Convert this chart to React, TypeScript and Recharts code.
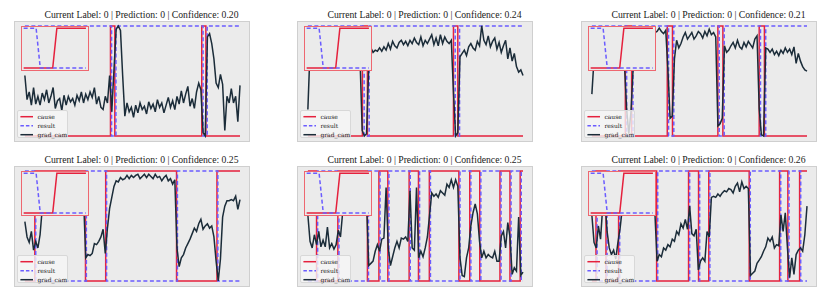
import React from 'react'
import { LineChart, Line, XAxis, YAxis } from 'recharts'

const titles = [
  'Current Label: 0 | Prediction: 0 | Confidence: 0.20',
  'Current Label: 0 | Prediction: 0 | Confidence: 0.24',
  'Current Label: 0 | Prediction: 0 | Confidence: 0.21',
  'Current Label: 0 | Prediction: 0 | Confidence: 0.25',
  'Current Label: 0 | Prediction: 0 | Confidence: 0.25',
  'Current Label: 0 | Prediction: 0 | Confidence: 0.26'
]

const legendNames = ['cause', 'result', 'grad_cam']

// grad_cam values, 100 samples per panel (0..1)
const gradCam1 = [
  0.55, 0.33, 0.40, 0.28, 0.44, 0.29, 0.36, 0.28, 0.39, 0.33,
  0.42, 0.30, 0.36, 0.44, 0.25, 0.32, 0.34, 0.23, 0.37, 0.28,
  0.36, 0.31, 0.34, 0.28, 0.37, 0.32, 0.40, 0.30, 0.38, 0.33,
  0.40, 0.35, 0.44, 0.29, 0.36, 0.26, 0.24, 0.36, 0.30, 0.55,
  0.22, 0.60, 0.97, 1.0, 0.96, 0.55, 0.18, 0.30, 0.22, 0.26,
  0.17, 0.28, 0.21, 0.30, 0.24, 0.27, 0.20, 0.31, 0.25, 0.29,
  0.22, 0.33, 0.26, 0.30, 0.21, 0.28, 0.35, 0.26, 0.32, 0.24,
  0.36, 0.29, 0.41, 0.30, 0.38, 0.45, 0.27, 0.34, 0.25, 0.40,
  0.48, 0.42, 0.03, 0.0, 0.90, 0.93, 0.84, 0.70, 0.48, 0.44,
  0.56, 0.47, 0.05, 0.36, 0.30, 0.43, 0.30, 0.36, 0.13, 0.46
]
const gradCam2 = [
  0.24, 0.78, 0.80, 0.76, 0.82, 0.79, 0.84, 0.77, 0.81, 0.85,
  0.79, 0.83, 0.78, 0.86, 0.80, 0.84, 0.79, 0.82, 0.87, 0.81,
  0.85, 0.78, 0.83, 0.80, 0.70, 0.05, 0.0, 0.02, 0.62, 0.80,
  0.76, 0.78, 0.77, 0.80, 0.77, 0.81, 0.78, 0.84, 0.79, 0.86,
  0.82, 0.80, 0.85, 0.87, 0.83, 0.86, 0.82, 0.87, 0.84, 0.89,
  0.85, 0.83, 0.90, 0.82, 0.87, 0.84, 0.88, 0.92, 0.83, 0.89,
  0.82, 0.92, 0.84, 0.90, 0.86, 0.84, 0.87, 0.40, 0.0, 0.03,
  0.72, 0.75, 0.78, 0.73, 0.81, 0.84, 0.80, 0.78, 0.86, 0.82,
  1.0, 0.87, 0.83, 0.91, 0.81, 0.86, 0.89, 0.79, 0.85, 0.76,
  0.82, 0.87, 0.70, 0.80, 0.68, 0.75, 0.63, 0.58, 0.60, 0.55
]
const gradCam3 = [
  0.38, 0.70, 0.75, 0.72, 0.80, 0.78, 0.74, 0.82, 0.77, 0.80,
  0.75, 0.79, 0.83, 0.76, 0.72, 0.65, 0.24, 0.02, 0.22, 0.62,
  0.80, 0.85, 0.82, 0.88, 0.84, 0.90, 0.86, 0.92, 0.88, 0.94,
  0.95, 0.98, 0.95, 0.93, 0.96, 0.60, 0.16, 0.18, 0.70, 0.87,
  0.80, 0.84, 0.90, 0.94, 0.88, 0.91, 0.94, 0.88, 0.91, 0.95,
  0.93, 0.89, 0.95, 0.91, 0.97, 0.92, 0.94, 0.90, 0.09, 0.11,
  0.16, 0.82, 0.76, 0.78, 0.82, 0.85, 0.80, 0.87, 0.81, 0.79,
  0.85, 0.81, 0.86, 0.83, 0.80, 0.88, 0.91, 0.25, 0.01, 0.0,
  0.80, 0.79, 0.76, 0.79, 0.74, 0.77, 0.73, 0.78, 0.75, 0.80,
  0.76, 0.79, 0.74, 0.81, 0.66, 0.75, 0.68, 0.63, 0.60, 0.59
]
const gradCam4 = [
  0.54, 0.40, 0.35, 0.45, 0.28, 0.36, 0.30, 0.42, 0.66, 0.75,
  0.78, 0.82, 0.80, 0.85, 0.83, 0.88, 0.86, 0.84, 0.89, 0.87,
  0.90, 0.86, 0.88, 0.85, 0.87, 0.83, 0.80, 0.76, 0.21, 0.24,
  0.23, 0.25, 0.34, 0.33, 0.36, 0.40, 0.47, 0.25, 0.48, 0.66,
  0.76, 0.86, 0.91, 0.90, 0.94, 0.92, 0.93, 0.96, 0.93, 0.96,
  0.94, 0.96, 0.97, 0.93, 0.95, 0.97, 0.94, 0.97, 0.95, 0.93,
  0.97, 0.94, 0.95, 0.91, 0.94, 0.96, 0.91, 0.93, 0.88, 0.92,
  0.30, 0.13, 0.21, 0.24, 0.30, 0.34, 0.38, 0.43, 0.48, 0.45,
  0.52, 0.56, 0.47, 0.50, 0.52, 0.48, 0.50, 0.40, 0.18, 0.0,
  0.20, 0.58, 0.68, 0.73, 0.73, 0.74, 0.73, 0.77, 0.65, 0.74
]
const gradCam5 = [
  0.60, 0.36, 0.30, 0.42, 0.33, 0.45, 0.31, 0.37, 0.31, 0.49,
  0.30, 0.34, 0.29, 0.33, 0.46, 0.40, 0.62, 0.70, 0.78, 0.74,
  0.82, 0.77, 0.85, 0.80, 0.76, 0.83, 0.79, 0.72, 0.14, 0.16,
  0.18, 0.27, 0.33, 0.27, 0.38, 0.39, 0.85, 0.30, 0.14, 0.22,
  0.30, 0.36, 0.30, 0.39, 0.38, 0.40, 0.36, 0.82, 0.30, 0.28,
  0.85, 0.21, 0.27, 0.22, 0.30, 0.40, 0.60, 0.80, 0.77, 0.79,
  0.76, 0.82, 0.80, 0.78, 0.88, 0.85, 0.92, 0.85, 0.92, 0.86,
  0.21, 0.05, 0.04, 0.21, 0.30, 0.50, 0.62, 0.70, 0.61, 0.36,
  0.21, 0.27, 0.21, 0.24, 0.22, 0.21, 0.27, 0.18, 0.18, 0.41,
  0.45, 0.30, 0.53, 0.40, 0.06, 0.12, 0.09, 0.58, 0.05, 0.08
]
const gradCam6 = [
  0.60, 0.35, 0.30, 0.50, 0.38, 0.68, 0.75, 0.45, 0.30, 0.24,
  0.28, 0.20, 0.35, 0.48, 0.66, 0.70, 0.75, 0.80, 0.78, 0.83,
  0.86, 0.82, 0.88, 0.85, 0.90, 0.87, 0.84, 0.80, 0.76, 0.62,
  0.18, 0.24, 0.22, 0.30, 0.28, 0.33, 0.31, 0.38, 0.36, 0.45,
  0.42, 0.52, 0.48, 0.56, 0.47, 0.68, 0.43, 0.41, 0.47, 0.10,
  0.18, 0.21, 0.18, 0.45, 0.40, 0.76, 0.77, 0.76, 0.79, 0.77,
  0.80, 0.82, 0.81, 0.84, 0.83, 0.80, 0.86, 0.89, 0.81, 0.90,
  0.84, 0.86, 0.84, 0.05, 0.07, 0.09, 0.16, 0.19, 0.22, 0.27,
  0.31, 0.39, 0.36, 0.40, 0.30, 0.33, 0.32, 0.60, 0.45, 0.62,
  0.30, 0.03, 0.21, 0.06, 0.24, 0.28, 0.30, 0.27, 0.42, 0.68
]

// sample ranges where cause is 1
const causeOn1 = [[39.4, 41.4], [81.4, 83.3]]
const causeOn2 = [[25.1, 27.4], [67, 69]]
const causeOn3 = [[15.4, 18.3], [34.7, 37.1], [58, 60.3], [77, 79.4]]
const causeOn4 = [[4.6, 27.9], [37.2, 69.8], [88.4, 99]]
const causeOn5 = [[0, 4], [13.8, 27.4], [32.7, 36.8], [46.6, 50.9], [55.9, 69.5], [74.5, 79.1], [88.4, 93], [97.7, 99]]
const causeOn6 = [[1.9, 6.5], [12.3, 29.8], [44.5, 49.1], [53.8, 72.4], [86.4, 90.2], [95.6, 99]]

// sample ranges where result is 0
const resultOff1 = [[39.9, 41.9], [82, 83.9]]
const resultOff2 = [[25.9, 28.2], [67.8, 69.8]]
const resultOff3 = [[16, 18.9], [35.3, 37.7], [58.6, 60.9], [77.6, 80]]
const resultOff4 = [[5, 28.3], [37.6, 70.2], [88.8, 99]]
const resultOff5 = [[0, 4.5], [14.3, 27.9], [33.2, 37.3], [47.1, 51.4], [56.4, 70], [75, 79.6], [88.9, 93.5], [98.2, 99]]
const resultOff6 = [[2.4, 7], [12.8, 30.3], [45, 49.6], [54.3, 72.9], [86.9, 90.7], [96.1, 99]]

// zoomed inset
const insetCause = [0, 0, 0, 0, 0, 0, 0, 0, 1, 1, 1, 1, 1, 1, 1, 1]
const insetResult = [1, 1, 1, 1, 0, 0, 0, 0, 0, 0, 0, 0, 0, 0, 0, 0]

const RED = '#e5213d'
const BLUE = '#6b5cff'
const DARK = '#1b2c39'
const BG = '#ebebeb'

const panels = [
  { left: 14, top: 21, grad: gradCam1, cause: causeOn1, result: resultOff1 },
  { left: 297, top: 21, grad: gradCam2, cause: causeOn2, result: resultOff2 },
  { left: 581, top: 21, grad: gradCam3, cause: causeOn3, result: resultOff3 },
  { left: 14, top: 166, grad: gradCam4, cause: causeOn4, result: resultOff4 },
  { left: 297, top: 166, grad: gradCam5, cause: causeOn5, result: resultOff5 },
  { left: 581, top: 166, grad: gradCam6, cause: causeOn6, result: resultOff6 }
]

function stepSeries(intervals: number[][], inside: number, outside: number, last: number) {
  const pts: { x: number; y: number }[] = []
  let cur = 0
  intervals.forEach(([a, b]) => {
    if (a > cur) pts.push({ x: cur, y: outside }, { x: a, y: outside })
    pts.push({ x: a, y: inside }, { x: b, y: inside })
    cur = b
  })
  if (cur < last) pts.push({ x: cur, y: outside }, { x: last, y: outside })
  return pts
}

const W = 236
const H = 121

function Legend() {
  const colors = [RED, BLUE, DARK]
  return (
    <svg width={51} height={28} style={{ position: 'absolute', left: 0, top: 0 }}>
      {legendNames.map((name, i) => {
        const y = 5.7 + i * 9
        return (
          <g key={name}>
            <line x1={2.4} x2={15} y1={y} y2={y} stroke={colors[i]} strokeWidth={1.5}
              strokeDasharray={i === 1 ? '3.5 2' : undefined} />
            <text x={19.4} y={y + 2} fontSize={6} fontFamily="DejaVu Serif" fill="#222">{name}</text>
          </g>
        )
      })}
    </svg>
  )
}

function Inset() {
  const data = insetCause.map((c, i) => ({ x: i, c, r: insetResult[i] }))
  return (
    <LineChart width={66} height={43} data={data} margin={{ top: 0, right: 0, bottom: 0, left: 0 }}>
      <XAxis type="number" dataKey="x" domain={[-0.4, 15.5]} hide allowDataOverflow />
      <YAxis type="number" domain={[-0.05, 1.03]} hide allowDataOverflow />
      <Line dataKey="c" stroke={RED} strokeWidth={1.5} dot={false} isAnimationActive={false} />
      <Line dataKey="r" stroke={BLUE} strokeWidth={1.5} strokeDasharray="4 2.5" dot={false} isAnimationActive={false} />
    </LineChart>
  )
}

function Panel({ p, title }: { p: (typeof panels)[number]; title: string }) {
  const last = p.grad.length - 1
  const grad = p.grad.map((v, i) => ({ x: i, y: v }))
  const cause = stepSeries(p.cause, 1, 0, last)
  const result = stepSeries(p.result, 0, 1, last)
  return (
    <>
      <div style={{
        position: 'absolute', left: p.left + 127.5 - 150, top: p.top - 12.5, width: 300,
        textAlign: 'center', fontFamily: 'Liberation Serif', fontSize: 9.7, lineHeight: '12px', color: '#1a1a1a'
      }}>{title}</div>
      <div style={{
        position: 'absolute', left: p.left, top: p.top, width: W, height: H,
        background: BG, boxSizing: 'border-box', border: '1px solid #cfcfcf'
      }} />
      <div style={{ position: 'absolute', left: p.left, top: p.top }}>
        <LineChart width={W} height={H} margin={{ top: 0, right: 0, bottom: 0, left: 0 }}>
          <XAxis type="number" dataKey="x" domain={[-5, 103.6]} hide allowDataOverflow />
          <YAxis type="number" domain={[-0.055, 1.045]} hide allowDataOverflow />
          <Line data={cause} dataKey="y" stroke={RED} strokeWidth={1.5} dot={false} isAnimationActive={false} />
          <Line data={result} dataKey="y" stroke={BLUE} strokeWidth={1.5} strokeDasharray="4 2.5" dot={false} isAnimationActive={false} />
          <Line data={grad} dataKey="y" stroke={DARK} strokeWidth={1.5} dot={false} isAnimationActive={false} />
        </LineChart>
      </div>
      <div style={{
        position: 'absolute', left: p.left + 7, top: p.top + 4.5, width: 66, height: 43,
        background: BG, border: '1.5px solid #ee6770'
      }}>
        <Inset />
      </div>
      <div style={{
        position: 'absolute', left: p.left + 3, top: p.top + 89, width: 51, height: 28, boxSizing: 'border-box',
        background: 'rgba(246,246,246,0.8)', border: '1px solid #d8d8d8', borderRadius: 2
      }}>
        <Legend />
      </div>
    </>
  )
}

export default function App() {
  return (
    <div style={{ position: 'absolute', left: 0, top: 0, width: 831, height: 298, background: '#fff', overflow: 'hidden' }}>
      {panels.map((p, i) => <Panel key={i} p={p} title={titles[i]} />)}
    </div>
  )
}
